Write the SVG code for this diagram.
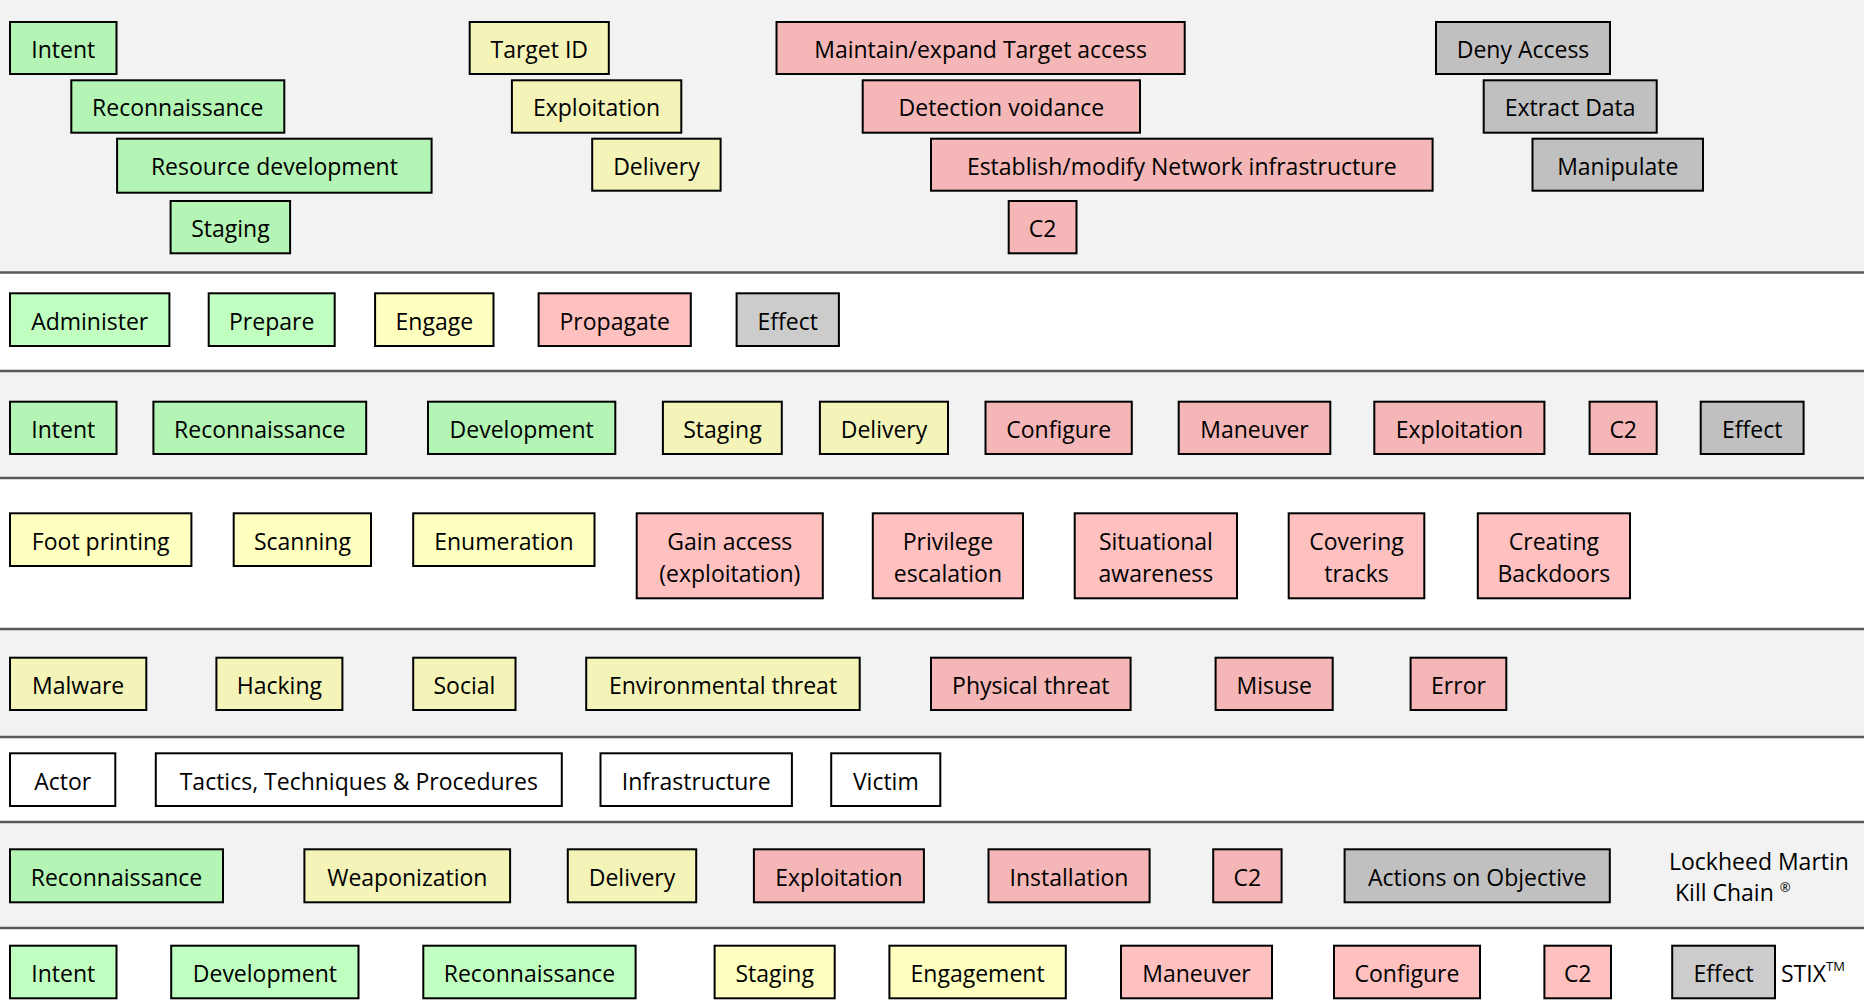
<svg xmlns="http://www.w3.org/2000/svg" width="1864" height="1002" viewBox="0 0 1864 1002">
<style>
.band{fill:#f2f2f2}
.sep{stroke:#595959;stroke-width:2.5;fill:none}
rect.b{stroke:#000;stroke-width:2}
.g1{fill:#b4f4b4}.g2{fill:#c0ffc0}
.y1{fill:#f4f4b8}.y2{fill:#ffffc0}
.r1{fill:#f4b6b6}.r2{fill:#ffc0c0}
.k1{fill:#c0c0c0}.k2{fill:#cccccc}
.w{fill:#ffffff}
text{font-family:"Open Sans","Noto Sans","DejaVu Sans",sans-serif;font-size:23px;fill:#000}
text.c{text-anchor:middle}
.sup{font-size:13px}
</style>
<g id="bands">
<rect x="0" y="0" width="1864" height="1002" fill="#ffffff"/>
<rect class="band" x="0" y="0" width="1864" height="272.5"/>
<rect class="band" x="0" y="371" width="1864" height="107"/>
<rect class="band" x="0" y="629" width="1864" height="108"/>
<rect class="band" x="0" y="822" width="1864" height="106"/>
</g>
<g id="connectors">
<line class="sep" x1="0" y1="272.5" x2="1864" y2="272.5"/>
<line class="sep" x1="0" y1="371" x2="1864" y2="371"/>
<line class="sep" x1="0" y1="478" x2="1864" y2="478"/>
<line class="sep" x1="0" y1="629" x2="1864" y2="629"/>
<line class="sep" x1="0" y1="737" x2="1864" y2="737"/>
<line class="sep" x1="0" y1="822" x2="1864" y2="822"/>
<line class="sep" x1="0" y1="928" x2="1864" y2="928"/>
</g>
<!-- Row 1 -->
<g id="r1-intent"><rect class="b g1" x="10" y="22" width="106.5" height="52"/><text class="c" x="63.3" y="57.5">Intent</text></g>
<g id="r1-recon"><rect class="b g1" x="71.3" y="80.3" width="213" height="52.4"/><text class="c" x="177.8" y="116">Reconnaissance</text></g>
<g id="r1-resdev"><rect class="b g1" x="117.1" y="138.7" width="314.5" height="54"/><text class="c" x="274.4" y="175">Resource development</text></g>
<g id="r1-staging"><rect class="b g1" x="170.6" y="201" width="119.5" height="52.3"/><text class="c" x="230.4" y="236.5">Staging</text></g>
<g id="r1-targetid"><rect class="b y1" x="469.7" y="22" width="139.1" height="52"/><text class="c" x="539.3" y="57.5">Target ID</text></g>
<g id="r1-exploit"><rect class="b y1" x="511.9" y="80.3" width="169.4" height="52.4"/><text class="c" x="596.6" y="116">Exploitation</text></g>
<g id="r1-delivery"><rect class="b y1" x="592.2" y="138.7" width="128.4" height="52"/><text class="c" x="656.4" y="174.5">Delivery</text></g>
<g id="r1-maintain"><rect class="b r1" x="776.5" y="22" width="408.2" height="52"/><text class="c" x="980.6" y="57.5">Maintain/expand Target access</text></g>
<g id="r1-detection"><rect class="b r1" x="862.7" y="80.3" width="277.3" height="52.4"/><text class="c" x="1001.4" y="116">Detection voidance</text></g>
<g id="r1-establish"><rect class="b r1" x="931" y="138.7" width="501.6" height="52"/><text class="c" x="1181.8" y="174.5">Establish/modify Network infrastructure</text></g>
<g id="r1-c2"><rect class="b r1" x="1008.7" y="201" width="67.8" height="52.3"/><text class="c" x="1042.6" y="236.5">C2</text></g>
<g id="r1-deny"><rect class="b k1" x="1436" y="22" width="174" height="52"/><text class="c" x="1523" y="57.5">Deny Access</text></g>
<g id="r1-extract"><rect class="b k1" x="1483.7" y="80.3" width="173" height="52.4"/><text class="c" x="1570.2" y="116">Extract Data</text></g>
<g id="r1-manip"><rect class="b k1" x="1532.5" y="138.7" width="170.5" height="52"/><text class="c" x="1617.8" y="174.5">Manipulate</text></g>
<!-- Row 2 -->
<g id="r2-administer"><rect class="b g2" x="10" y="293.3" width="159.4" height="52.7"/><text class="c" x="89.7" y="329.5">Administer</text></g>
<g id="r2-prepare"><rect class="b g2" x="208.7" y="293.3" width="126" height="52.7"/><text class="c" x="271.7" y="329.5">Prepare</text></g>
<g id="r2-engage"><rect class="b y2" x="375.1" y="293.3" width="118.4" height="52.7"/><text class="c" x="434.3" y="329.5">Engage</text></g>
<g id="r2-propagate"><rect class="b r2" x="538.6" y="293.3" width="152.2" height="52.7"/><text class="c" x="614.7" y="329.5">Propagate</text></g>
<g id="r2-effect"><rect class="b k2" x="736.6" y="293.3" width="102.3" height="52.7"/><text class="c" x="787.8" y="329.5">Effect</text></g>
<!-- Row 3 -->
<g id="r3-intent"><rect class="b g1" x="10" y="401.7" width="106.5" height="52.3"/><text class="c" x="63.3" y="437.5">Intent</text></g>
<g id="r3-recon"><rect class="b g1" x="153.4" y="401.7" width="212.8" height="52.3"/><text class="c" x="259.8" y="437.5">Reconnaissance</text></g>
<g id="r3-dev"><rect class="b g1" x="428" y="401.7" width="187.3" height="52.3"/><text class="c" x="521.7" y="437.5">Development</text></g>
<g id="r3-staging"><rect class="b y1" x="662.9" y="401.7" width="118.9" height="52.3"/><text class="c" x="722.4" y="437.5">Staging</text></g>
<g id="r3-delivery"><rect class="b y1" x="819.9" y="401.7" width="128.1" height="52.3"/><text class="c" x="884" y="437.5">Delivery</text></g>
<g id="r3-configure"><rect class="b r1" x="985.5" y="401.7" width="146.3" height="52.3"/><text class="c" x="1058.7" y="437.5">Configure</text></g>
<g id="r3-maneuver"><rect class="b r1" x="1178.7" y="401.7" width="151.6" height="52.3"/><text class="c" x="1254.5" y="437.5">Maneuver</text></g>
<g id="r3-exploit"><rect class="b r1" x="1374.3" y="401.7" width="170.1" height="52.3"/><text class="c" x="1459.4" y="437.5">Exploitation</text></g>
<g id="r3-c2"><rect class="b r1" x="1589.6" y="401.7" width="67.1" height="52.3"/><text class="c" x="1623.2" y="437.5">C2</text></g>
<g id="r3-effect"><rect class="b k1" x="1700.7" y="401.7" width="102.9" height="52.3"/><text class="c" x="1752.2" y="437.5">Effect</text></g>
<!-- Row 4 -->
<g id="r4-foot"><rect class="b y2" x="10" y="513.3" width="181.4" height="52.7"/><text class="c" x="100.7" y="549.5">Foot printing</text></g>
<g id="r4-scanning"><rect class="b y2" x="233.7" y="513.3" width="137.3" height="52.7"/><text class="c" x="302.4" y="549.5">Scanning</text></g>
<g id="r4-enum"><rect class="b y2" x="413.2" y="513.3" width="181.3" height="52.7"/><text class="c" x="503.9" y="549.5">Enumeration</text></g>
<g id="r4-gain"><rect class="b r2" x="636.7" y="513.3" width="186.1" height="85"/><text class="c" x="729.8" y="549.5">Gain access</text><text class="c" x="729.8" y="581.5">(exploitation)</text></g>
<g id="r4-priv"><rect class="b r2" x="872.8" y="513.3" width="150.2" height="85"/><text class="c" x="947.9" y="549.5">Privilege</text><text class="c" x="947.9" y="581.5">escalation</text></g>
<g id="r4-situ"><rect class="b r2" x="1074.7" y="513.3" width="162.3" height="85"/><text class="c" x="1155.9" y="549.5">Situational</text><text class="c" x="1155.9" y="581.5">awareness</text></g>
<g id="r4-cover"><rect class="b r2" x="1288.7" y="513.3" width="135.6" height="85"/><text class="c" x="1356.5" y="549.5">Covering</text><text class="c" x="1356.5" y="581.5">tracks</text></g>
<g id="r4-backdoor"><rect class="b r2" x="1477.8" y="513.3" width="152.2" height="85"/><text class="c" x="1553.9" y="549.5">Creating</text><text class="c" x="1553.9" y="581.5">Backdoors</text></g>
<!-- Row 5 -->
<g id="r5-malware"><rect class="b y1" x="10" y="657.7" width="136.3" height="52.3"/><text class="c" x="78.2" y="693.5">Malware</text></g>
<g id="r5-hacking"><rect class="b y1" x="216.4" y="657.7" width="126" height="52.3"/><text class="c" x="279.4" y="693.5">Hacking</text></g>
<g id="r5-social"><rect class="b y1" x="413.2" y="657.7" width="102.3" height="52.3"/><text class="c" x="464.4" y="693.5">Social</text></g>
<g id="r5-env"><rect class="b y1" x="586.2" y="657.7" width="273.5" height="52.3"/><text class="c" x="723" y="693.5">Environmental threat</text></g>
<g id="r5-phys"><rect class="b r1" x="931" y="657.7" width="199.6" height="52.3"/><text class="c" x="1030.8" y="693.5">Physical threat</text></g>
<g id="r5-misuse"><rect class="b r1" x="1215.6" y="657.7" width="117.1" height="52.3"/><text class="c" x="1274.2" y="693.5">Misuse</text></g>
<g id="r5-error"><rect class="b r1" x="1410.6" y="657.7" width="95.7" height="52.3"/><text class="c" x="1458.5" y="693.5">Error</text></g>
<!-- Row 6 -->
<g id="r6-actor"><rect class="b w" x="10" y="753.3" width="105.3" height="52.7"/><text class="c" x="62.7" y="789.5">Actor</text></g>
<g id="r6-ttp"><rect class="b w" x="155.8" y="753.3" width="406" height="52.7"/><text class="c" x="358.8" y="789.5">Tactics, Techniques &amp; Procedures</text></g>
<g id="r6-infra"><rect class="b w" x="600.5" y="753.3" width="191.4" height="52.7"/><text class="c" x="696.2" y="789.5">Infrastructure</text></g>
<g id="r6-victim"><rect class="b w" x="831.2" y="753.3" width="109.1" height="52.7"/><text class="c" x="885.8" y="789.5">Victim</text></g>
<!-- Row 7 -->
<g id="r7-recon"><rect class="b g1" x="10" y="849.3" width="213" height="53"/><text class="c" x="116.5" y="885.5">Reconnaissance</text></g>
<g id="r7-weapon"><rect class="b y1" x="304.4" y="849.3" width="205.7" height="53"/><text class="c" x="407.3" y="885.5">Weaponization</text></g>
<g id="r7-delivery"><rect class="b y1" x="567.8" y="849.3" width="128.4" height="53"/><text class="c" x="632" y="885.5">Delivery</text></g>
<g id="r7-exploit"><rect class="b r1" x="753.9" y="849.3" width="170" height="53"/><text class="c" x="838.9" y="885.5">Exploitation</text></g>
<g id="r7-install"><rect class="b r1" x="988.5" y="849.3" width="161.1" height="53"/><text class="c" x="1069" y="885.5">Installation</text></g>
<g id="r7-c2"><rect class="b r1" x="1213.2" y="849.3" width="68.4" height="53"/><text class="c" x="1247.4" y="885.5">C2</text></g>
<g id="r7-actions"><rect class="b k1" x="1344.6" y="849.3" width="265.2" height="53"/><text class="c" x="1477.2" y="885.5">Actions on Objective</text></g>
<g id="r7-label"><text x="1669" y="870">Lockheed Martin</text><text x="1675" y="901">Kill Chain <tspan class="sup" dy="-9">®</tspan></text></g>
<!-- Row 8 -->
<g id="r8-intent"><rect class="b g2" x="10" y="945.7" width="106.5" height="52.6"/><text class="c" x="63.3" y="981.5">Intent</text></g>
<g id="r8-dev"><rect class="b g2" x="171.2" y="945.7" width="187.3" height="52.6"/><text class="c" x="264.9" y="981.5">Development</text></g>
<g id="r8-recon"><rect class="b g2" x="423.3" y="945.7" width="212.3" height="52.6"/><text class="c" x="529.5" y="981.5">Reconnaissance</text></g>
<g id="r8-staging"><rect class="b y2" x="714.6" y="945.7" width="120.1" height="52.6"/><text class="c" x="774.7" y="981.5">Staging</text></g>
<g id="r8-engage"><rect class="b y2" x="889.4" y="945.7" width="176.4" height="52.6"/><text class="c" x="977.6" y="981.5">Engagement</text></g>
<g id="r8-maneuver"><rect class="b r2" x="1121" y="945.7" width="151" height="52.6"/><text class="c" x="1196.5" y="981.5">Maneuver</text></g>
<g id="r8-configure"><rect class="b r2" x="1334" y="945.7" width="146" height="52.6"/><text class="c" x="1407" y="981.5">Configure</text></g>
<g id="r8-c2"><rect class="b r2" x="1544.4" y="945.7" width="66.6" height="52.6"/><text class="c" x="1577.7" y="981.5">C2</text></g>
<g id="r8-effect"><rect class="b k2" x="1672.2" y="945.7" width="102.8" height="52.6"/><text class="c" x="1723.6" y="981.5">Effect</text></g>
<g id="r8-label"><text x="1781" y="981.5">STIX<tspan class="sup" dy="-11" font-size="14">TM</tspan></text></g>
</svg>
